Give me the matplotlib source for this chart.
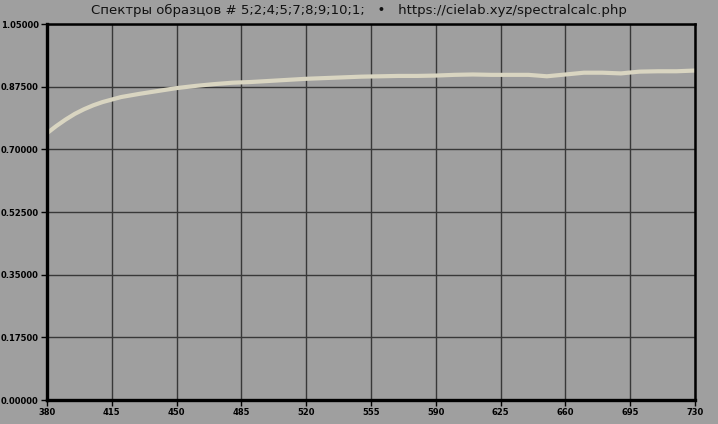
import numpy as np
import matplotlib
matplotlib.use("Agg")
import matplotlib.pyplot as plt

# Spectrum values (wavelength, nm -> reflectance)
wavelengths = [380, 385, 390, 395, 400, 405, 410, 420, 430, 440, 450, 460,
               470, 480, 490, 500, 510, 520, 530, 540, 550, 560, 570, 580,
               590, 600, 610, 620, 630, 640, 650, 660, 670, 680, 690, 700,
               710, 720, 730]
reflectance = [0.745, 0.765, 0.783, 0.799, 0.812, 0.823, 0.832, 0.846, 0.855,
               0.863, 0.871, 0.877, 0.882, 0.886, 0.888, 0.891, 0.894, 0.897,
               0.899, 0.901, 0.903, 0.904, 0.905, 0.905, 0.906, 0.908, 0.909,
               0.908, 0.908, 0.908, 0.904, 0.909, 0.914, 0.914, 0.912, 0.917,
               0.918, 0.918, 0.920]

x_ticks = [380, 415, 450, 485, 520, 555, 590, 625, 660, 695, 730]
y_ticks = [0.0, 0.175, 0.35, 0.525, 0.7, 0.875, 1.05]
title = "Спектры образцов # 5;2;4;5;7;8;9;10;1;   •   https://cielab.xyz/spectralcalc.php"

bg = "#9f9f9f"

fig = plt.figure(figsize=(7.18, 4.24), dpi=100, facecolor=bg)
ax = fig.add_axes([47 / 718, 24 / 424, 648 / 718, 376 / 424], facecolor=bg)

ax.plot(wavelengths, reflectance, color="#d9d5c1", linewidth=3.0,
        solid_capstyle="butt", solid_joinstyle="round", zorder=3)

ax.set_xlim(380, 730)
ax.set_ylim(0, 1.05)
ax.set_xticks(x_ticks)
ax.set_yticks(y_ticks)
ax.set_xticklabels([str(v) for v in x_ticks])
ax.set_yticklabels(["%.5f" % v for v in y_ticks])

ax.grid(True, color="#383838", linewidth=1.0, zorder=1)
ax.tick_params(axis="both", labelsize=6, colors="black", length=4, width=1,
               pad=2)
for lbl in ax.get_xticklabels() + ax.get_yticklabels():
    lbl.set_fontweight("bold")

for side in ["left", "bottom"]:
    ax.spines[side].set_linewidth(2.4)
for side in ["top", "right"]:
    ax.spines[side].set_linewidth(1.8)
for sp in ax.spines.values():
    sp.set_color("black")
    sp.set_zorder(4)

fig.text(0.5, 1 - 10 / 424, title, ha="center", va="center",
         fontsize=9.5, color="#111111")

fig.savefig("out.png", dpi=100, facecolor=bg)
